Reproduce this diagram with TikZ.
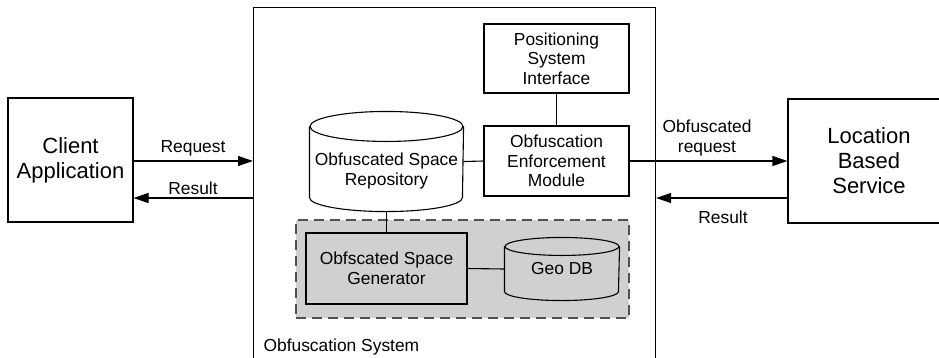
\documentclass[tikz,border=0pt]{standalone}
\usepackage{fontspec}
\setmainfont{Liberation Sans}
\usetikzlibrary{arrows.meta}

\definecolor{regiongray}{RGB}{208,208,208}
\definecolor{dashgray}{RGB}{80,80,80}

% cylinder outline around a (blank) node: name, x radius, top y radius, bottom y radius
\newcommand\cylshape[4]{%
  \draw ([yshift=-#3]#1.north west) -- ([yshift=#4]#1.south west)
        arc[start angle=180,end angle=360,x radius=#2,y radius=#4]
        -- ([yshift=-#3]#1.north east);
  \draw ([yshift=-#3]#1.north) ellipse[x radius=#2,y radius=#3];
}

\begin{document}
\begin{tikzpicture}[x=1pt,y=-1pt,line width=1.1pt,
  every node/.style={font=\fontsize{17.4}{19.5}\selectfont,align=center,inner sep=0pt},
  box/.style={draw,rectangle},
  bigbox/.style={draw,rectangle,font=\fontsize{22}{25}\selectfont},
  region/.style={fill=regiongray,draw=dashgray,dash pattern=on 10pt off 6pt},
  arr/.style={-{Triangle[length=15pt,width=10pt]}}]
\useasboundingbox (0,0) rectangle (939,357);
\clip (0,0) rectangle (939,357);

% outer parties
\node (client) [bigbox,minimum width=125pt,minimum height=124pt] at (70.5,160) {Client\\Application};
\node (lbs) [bigbox,minimum width=162pt,minimum height=124pt] at (869,161) {Location\\Based\\Service};

% obfuscation system frame (open at the bottom)
\node (sys) [box,anchor=north west,minimum width=402pt,minimum height=400pt] at (253,7) {};
\node (syslabel) [anchor=west] at (263,347) {Obfuscation System};

% generation area
\node (grp) [region,minimum width=333pt,minimum height=98pt] at (462.5,269) {};
\node (gen) [box,fill=regiongray,minimum width=161pt,minimum height=71pt] at (386.5,268.5) {Obfscated Space\\Generator};
\node (geodb) [minimum width=114pt,minimum height=62pt] at (562,269) {Geo DB};
\cylshape{geodb}{57pt}{9pt}{9pt}

% repository and modules
\node (repo) [minimum width=153pt,minimum height=99pt] at (386.5,161.5) {};
\cylshape{repo}{76.5pt}{15pt}{14pt}
\node (repotext) [yshift=-9.5pt] at (repo.center) {Obfuscated Space\\Repository};
\node (psi) [box,minimum width=145pt,minimum height=69pt] at (556.5,58.5) {Positioning\\System\\Interface};
\node (oem) [box,minimum width=145pt,minimum height=70pt] at (556.5,161) {Obfuscation\\Enforcement\\Module};

% internal links
\draw (psi.south) -- (oem.north);
\draw (repo.east) -- (oem.west);
\draw (repo.south) -- (gen.north);
\draw (gen.east) -- (geodb.west);

% message flows
\draw[arr] ([yshift=-1pt]client.east) -- ([yshift=-1pt]client.east -| sys.west);
\draw[arr] ([yshift=-38pt]client.east -| sys.west) -- ([yshift=-38pt]client.east);
\draw[arr] (oem.east) -- (oem.east -| lbs.west);
\draw[arr] ([yshift=-37pt]lbs.west) -- ([yshift=-37pt]lbs.west -| sys.east);

\node (lreq) at (193,148) {Request};
\node (lres) at (193,188) {Result};
\node (loreq) at (707,138) {Obfuscated\\request};
\node (lores) at (723,217) {Result};
\end{tikzpicture}
\end{document}
